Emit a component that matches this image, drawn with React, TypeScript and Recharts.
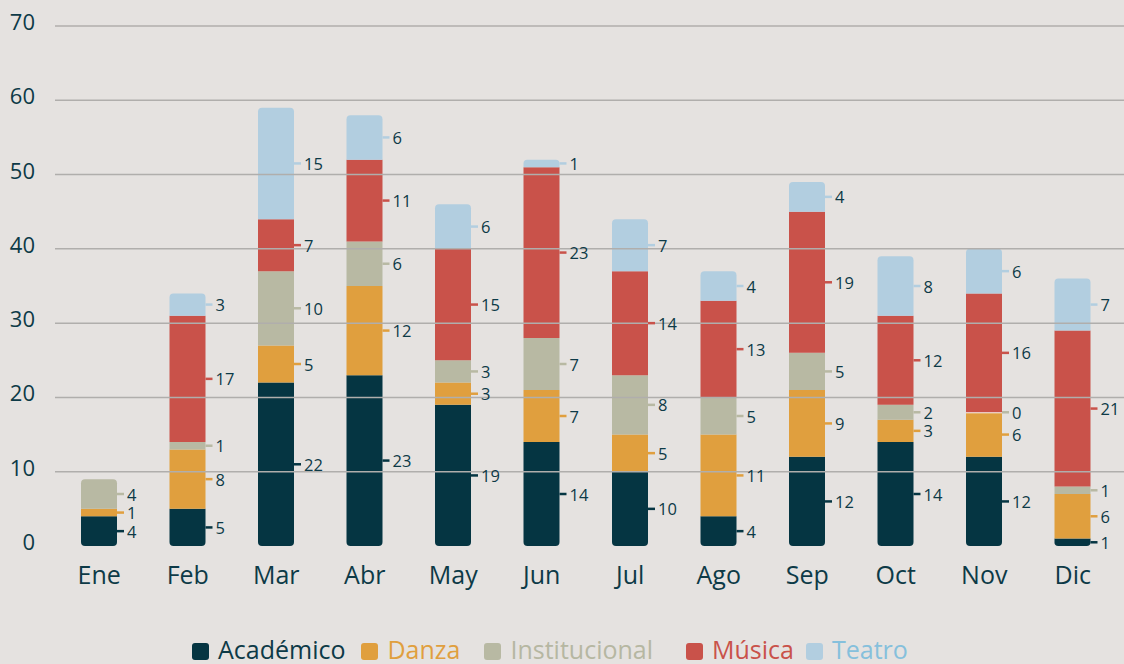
import React from "react";
import { BarChart, Bar, XAxis, YAxis, ReferenceLine, LabelList } from "recharts";

const months = ["Ene", "Feb", "Mar", "Abr", "May", "Jun", "Jul", "Ago", "Sep", "Oct", "Nov", "Dic"];
const academico = [4, 5, 22, 23, 19, 14, 10, 4, 12, 14, 12, 1];
const danza = [1, 8, 5, 12, 3, 7, 5, 11, 9, 3, 6, 6];
const institucional = [4, 1, 10, 6, 3, 7, 8, 5, 5, 2, 0, 1];
const musica = [null, 17, 7, 11, 15, 23, 14, 13, 19, 12, 16, 21];
const teatro = [null, 3, 15, 6, 6, 1, 7, 4, 4, 8, 6, 7];
const yTicks = [0, 10, 20, 30, 40, 50, 60, 70];

const SERIES = [
  { key: "academico", name: "Académico", color: "#053542", text: "#0d3a47" },
  { key: "danza", name: "Danza", color: "#e09f3e", text: "#e09f3e" },
  { key: "institucional", name: "Institucional", color: "#b8b9a3", text: "#b6b7a2" },
  { key: "musica", name: "Música", color: "#c9524a", text: "#c9524a" },
  { key: "teatro", name: "Teatro", color: "#b2cee0", text: "#86c0dc" },
];

const data = months.map((m, i) => ({
  month: m,
  academico: academico[i],
  danza: danza[i],
  institucional: institucional[i],
  musica: musica[i],
  teatro: teatro[i],
}));

const INK = "#0d3a47";
const FONT = "'Open Sans', 'Noto Sans', sans-serif";

// stacked segment, rounding only the outer ends of the whole column
const makeShape = (idx: number) => (props: any) => {
  const { x, y, width, height, payload, fill } = props;
  const key = SERIES[idx].key;
  if (!height || height <= 0) {
    // a zero value shows as a thin light separator
    if (payload && payload[key] === 0) {
      return <rect x={x} y={y - 1} width={width} height={2} fill="#f4f1ee" />;
    }
    return null;
  }
  const vals = SERIES.map((s) => payload[s.key] || 0);
  const isBottom = vals.slice(0, idx).every((v) => v === 0);
  const isTop = vals.slice(idx + 1).every((v) => v === 0);
  const r = Math.min(4, height / 2);
  const rt = isTop ? r : 0;
  const rb = isBottom ? r : 0;
  const w = width, h = height;
  const d = `M${x},${y + rt} Q${x},${y} ${x + rt},${y} L${x + w - rt},${y} Q${x + w},${y} ${x + w},${y + rt}
    L${x + w},${y + h - rb} Q${x + w},${y + h} ${x + w - rb},${y + h} L${x + rb},${y + h} Q${x},${y + h} ${x},${y + h - rb} Z`;
  return <path d={d} fill={fill} />;
};

const makeLabel = (color: string) => (props: any) => {
  const { value } = props;
  if (value == null) return null;
  const vb = props.viewBox && props.viewBox.width != null ? props.viewBox : props;
  const { x, y, width, height } = vb;
  const cy = y + height / 2;
  const x0 = x + width;
  return (
    <g>
      <line x1={x0} x2={x0 + 7} y1={cy} y2={cy} stroke={color} strokeWidth={2.5} />
      <text x={x0 + 10} y={cy} dominantBaseline="central" fontSize={16.5} fontFamily={FONT} fill={INK}>
        {value}
      </text>
    </g>
  );
};

const XTick = (props: any) => {
  const { x, y, payload } = props;
  return (
    <text x={x} y={y + 38} textAnchor="middle" fontSize={25} fontFamily={FONT} fill={INK}>
      {payload.value}
    </text>
  );
};

const YTick = (props: any) => {
  const { y, payload } = props;
  return (
    <text x={35} y={y + 4} textAnchor="end" fontSize={22} fontFamily={FONT} fill={INK}>
      {payload.value}
    </text>
  );
};

export default function App() {
  return (
    <div
      style={{
        position: "absolute",
        left: 0,
        top: 0,
        width: 1124,
        height: 664,
        background: "#e5e2e0",
        overflow: "hidden",
      }}
    >
      <BarChart width={1124} height={664} data={data} margin={{ top: 26, right: 0, left: 0, bottom: 68 }}>
        <XAxis
          dataKey="month"
          axisLine={false}
          tickLine={false}
          tickSize={0}
          tickMargin={0}
          height={50}
          tick={<XTick />}
          padding={{ left: 0, right: 7 }}
        />
        <YAxis
          domain={[0, 70]}
          ticks={yTicks}
          axisLine={false}
          tickLine={false}
          width={55}
          tick={<YTick />}
        />
        {yTicks
          .filter((t) => t > 0)
          .map((t) => (
            <ReferenceLine key={t} y={t} stroke="#b0aeac" strokeWidth={1.5} />
          ))}
        {SERIES.map((s, i) => (
          <Bar
            key={s.key}
            dataKey={s.key}
            name={s.name}
            stackId="a"
            fill={s.color}
            barSize={36}
            shape={makeShape(i)}
            isAnimationActive={false}
          >
            <LabelList dataKey={s.key} content={makeLabel(s.color)} />
          </Bar>
        ))}
      </BarChart>
      <div
        style={{
          position: "absolute",
          left: 192,
          top: 635,
          display: "flex",
          alignItems: "center",
          fontFamily: FONT,
          fontSize: 25,
          lineHeight: "28px",
          whiteSpace: "nowrap",
        }}
      >
        {SERIES.map((s, i) => (
          <div
            key={s.key}
            style={{ display: "flex", alignItems: "center", marginLeft: [0, 16, 24, 33, 12][i] }}
          >
            <span
              style={{
                display: "inline-block",
                width: 17,
                height: 17,
                borderRadius: 3,
                background: s.color,
                marginRight: 9,
                marginTop: 4,
              }}
            />
            <span style={{ color: s.text }}>{s.name}</span>
          </div>
        ))}
      </div>
    </div>
  );
}
